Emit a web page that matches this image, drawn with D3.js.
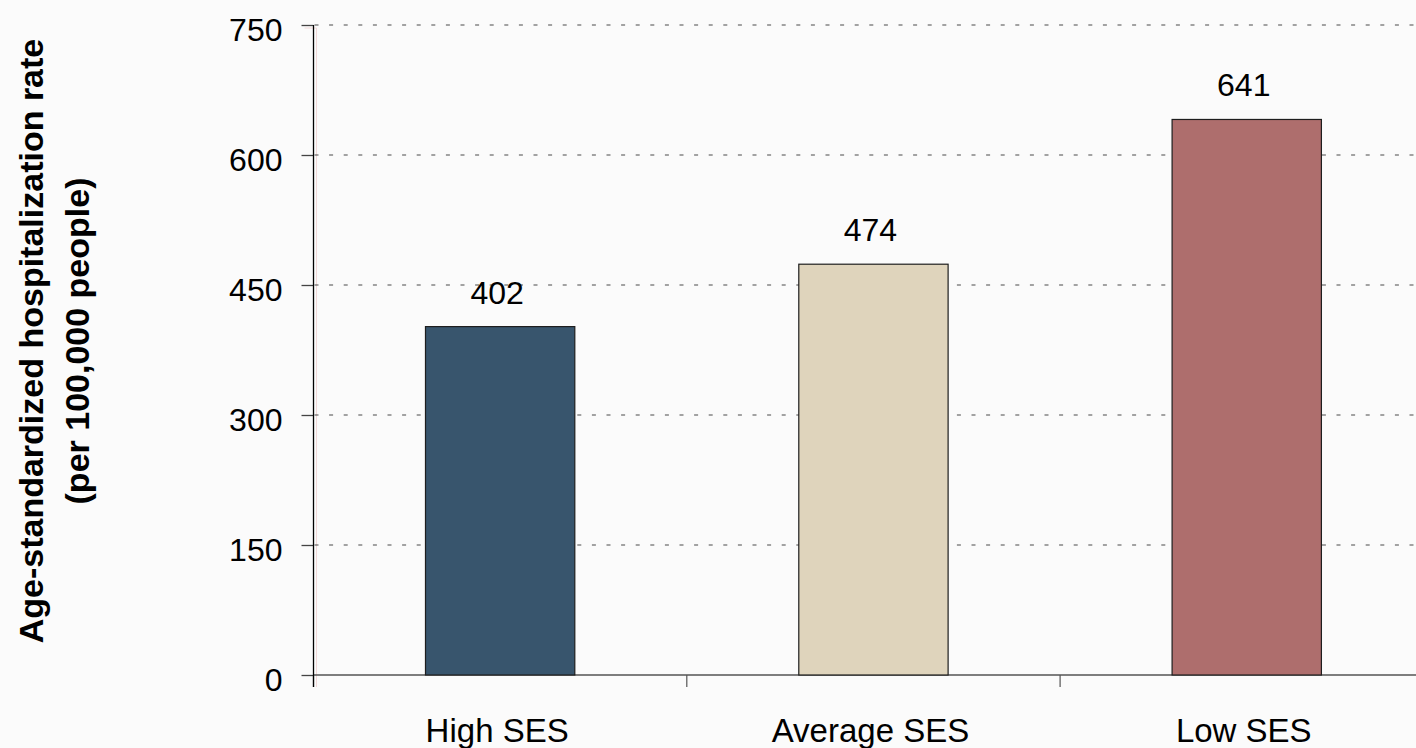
<!DOCTYPE html>
<html>
<head>
<meta charset="utf-8">
<script src="https://cdn.jsdelivr.net/npm/d3@7"></script>
<style>
  html, body { margin: 0; padding: 0; background: #fbfbfb; overflow: hidden; }
  svg { display: block; }
  text { font-family: "Liberation Sans", Arial, Helvetica, sans-serif; fill: #000; }
</style>
</head>
<body>
<script>
// ---- data ----
const categories = ["High SES", "Average SES", "Low SES"];
const rates = [402, 474, 641];
const barColors = ["#38556d", "#dfd4bc", "#ae6e6d"];
const yTicks = [0, 150, 300, 450, 600, 750];
const yTitleLines = ["Age-standardized hospitalization rate", "(per 100,000 people)"];

const W = 1416, H = 748;
const svg = d3.select("body").append("svg").attr("width", W).attr("height", H);
svg.append("rect").attr("width", W).attr("height", H).attr("fill", "#fbfbfb");

const x0 = 313.5, x1 = x0 + 3 * 373.3;
const yBottom = 675, yTop = 25;

const x = d3.scaleBand().domain(categories).range([x0, x1])
  .paddingInner(0.6).paddingOuter(0.3).align(0.5);
const y = d3.scaleLinear().domain([0, 750]).range([yBottom, yTop]);

// faint shadow of axis
svg.append("path")
  .attr("d", `M${x0 - 9},${y(750) + 3}H${x0 + 3}V${yBottom + 12}`)
  .attr("fill", "none").attr("stroke", "#f1d9d9").attr("stroke-width", 1);

// gridlines
svg.append("g").selectAll("line")
  .data(yTicks.filter(t => t > 0))
  .join("line")
  .attr("x1", x0 + 1).attr("x2", W)
  .attr("y1", d => y(d)).attr("y2", d => y(d))
  .attr("stroke", "#4a4a4a").attr("stroke-width", 1.2)
  .attr("stroke-dasharray", "4,10.6");

// x axis line
svg.append("line")
  .attr("x1", x0).attr("x2", W)
  .attr("y1", yBottom).attr("y2", yBottom)
  .attr("stroke", "#555").attr("stroke-width", 1.3);

// x boundary ticks
const bounds = d3.range(categories.length + 1).map(i => x0 + i * x.step());
svg.append("g").selectAll("line").data(bounds).join("line")
  .attr("x1", d => d).attr("x2", d => d)
  .attr("y1", yBottom).attr("y2", yBottom + 12)
  .attr("stroke", "#555").attr("stroke-width", 1.2);

// y axis
const yAxis = d3.axisLeft(y).tickValues(yTicks).tickSize(12).tickPadding(19).tickFormat(d3.format("d"));
const gy = svg.append("g").attr("transform", `translate(${x0},0)`).call(yAxis);
gy.select(".domain").remove();
gy.selectAll(".tick line").attr("stroke", "#444").attr("stroke-width", 1.3);
gy.selectAll(".tick text")
  .attr("dy", null).attr("y", 15)
  .style("font-size", "32px").attr("fill", "#000");
svg.append("line")
  .attr("x1", x0).attr("x2", x0)
  .attr("y1", y(750)).attr("y2", yBottom + 12)
  .attr("stroke", "#000").attr("stroke-width", 1.3);

// bars
svg.append("g").selectAll("rect")
  .data(categories)
  .join("rect")
  .attr("x", d => x(d))
  .attr("width", x.bandwidth())
  .attr("y", (d, i) => y(rates[i]))
  .attr("height", (d, i) => y(0) - y(rates[i]))
  .attr("fill", (d, i) => barColors[i])
  .attr("stroke", "#1e1e1e").attr("stroke-width", 1.2);

// value labels
svg.append("g").selectAll("text")
  .data(categories)
  .join("text")
  .attr("x", d => x(d) + x.bandwidth() / 2 - 3)
  .attr("y", (d, i) => y(rates[i]) - 23)
  .attr("text-anchor", "middle")
  .style("font-size", "32px")
  .text((d, i) => rates[i]);

// category labels
const xAxis = d3.axisBottom(x).tickSize(0).tickPadding(0);
const gx = svg.append("g").attr("transform", `translate(0,${yBottom})`).call(xAxis);
gx.select(".domain").remove();
gx.selectAll(".tick text")
  .attr("dy", null).attr("y", 67).attr("dx", -3)
  .style("font-size", "33px").attr("fill", "#000");

// y title
const title = svg.append("g");
yTitleLines.forEach((line, i) => {
  title.append("text")
    .attr("transform", `translate(${43 + i * 46},341) rotate(-90)`)
    .attr("text-anchor", "middle")
    .style("font-size", "34px")
    .style("font-weight", "bold")
    .text(line);
});
</script>
</body>
</html>
